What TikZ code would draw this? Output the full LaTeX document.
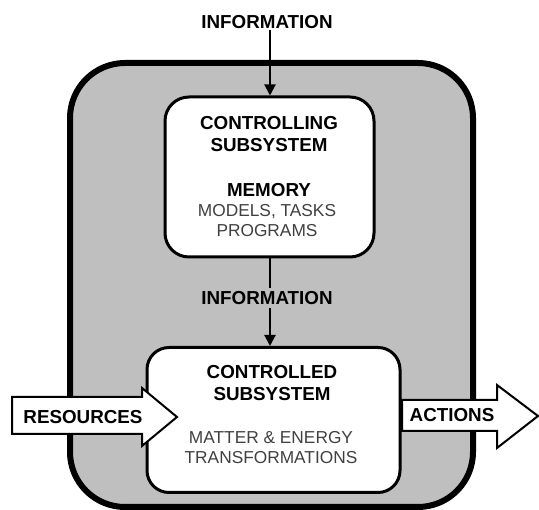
\documentclass[tikz,border=0pt]{standalone}
\usepackage{fontspec}
\setmainfont{Liberation Sans}
\usetikzlibrary{arrows.meta}
\begin{document}
\begin{tikzpicture}[x=1pt,y=-1pt,
  boldtxt/.style={font=\bfseries\fontsize{18.8}{22}\selectfont, align=center, inner sep=1pt},
  thintxt/.style={font=\fontsize{17.3}{20}\selectfont, align=center, text=black!75, inner sep=1pt},
  subbox/.style={draw, fill=white, line width=3pt, rounded corners=24pt},
  conn/.style={line width=2pt, -{Triangle[length=11pt,width=11pt]}},
  blockarrow/.style={draw, fill=white, line width=2pt, line join=miter}
]
\useasboundingbox (0,0) rectangle (539,510);
% outer system
\draw[line width=6pt, fill=black!25, rounded corners=55pt] (70,63) rectangle (473,507);
% subsystems
\node[subbox, minimum width=209pt, minimum height=160pt] (ctrl) at (269.5,177) {};
\node[subbox, minimum width=253pt, minimum height=145pt, rounded corners=22pt] (plant) at (273.5,420) {};
% texts
\node[boldtxt] (info1) at (267,22) {INFORMATION};
\node[boldtxt] (ctrltitle) at (269,134) {CONTROLLING\\SUBSYSTEM};
\node[boldtxt] (mem) at (269,190) {MEMORY};
\node[thintxt] (memtxt) at (267,221) {MODELS, TASKS\\PROGRAMS};
\node[boldtxt] (planttitle) at (272,383.5) {CONTROLLED\\SUBSYSTEM};
\node[thintxt] (planttxt) at (271,448) {MATTER \& ENERGY\\TRANSFORMATIONS};
% connectors
\draw[conn] (270,0 |- info1.south) -- (270,0 |- ctrl.north);
\draw[conn] (270,0 |- ctrl.south) -- (270,0 |- plant.north);
\node[boldtxt, fill=black!25, inner sep=3pt] (info2) at (267,298) {INFORMATION};
% block arrows
\draw[blockarrow] (12,397) -- (142,397) -- (142,388) -- (177,417) -- (142,446) -- (142,434) -- (12,434) -- cycle;
\node[boldtxt] (res) at (83,417) {RESOURCES};
\draw[blockarrow] (402,400) -- (497,400) -- (497,385) -- (538,416) -- (497,448) -- (497,431) -- (402,431) -- cycle;
\node[boldtxt] (act) at (452,415) {ACTIONS};
\end{tikzpicture}
\end{document}
